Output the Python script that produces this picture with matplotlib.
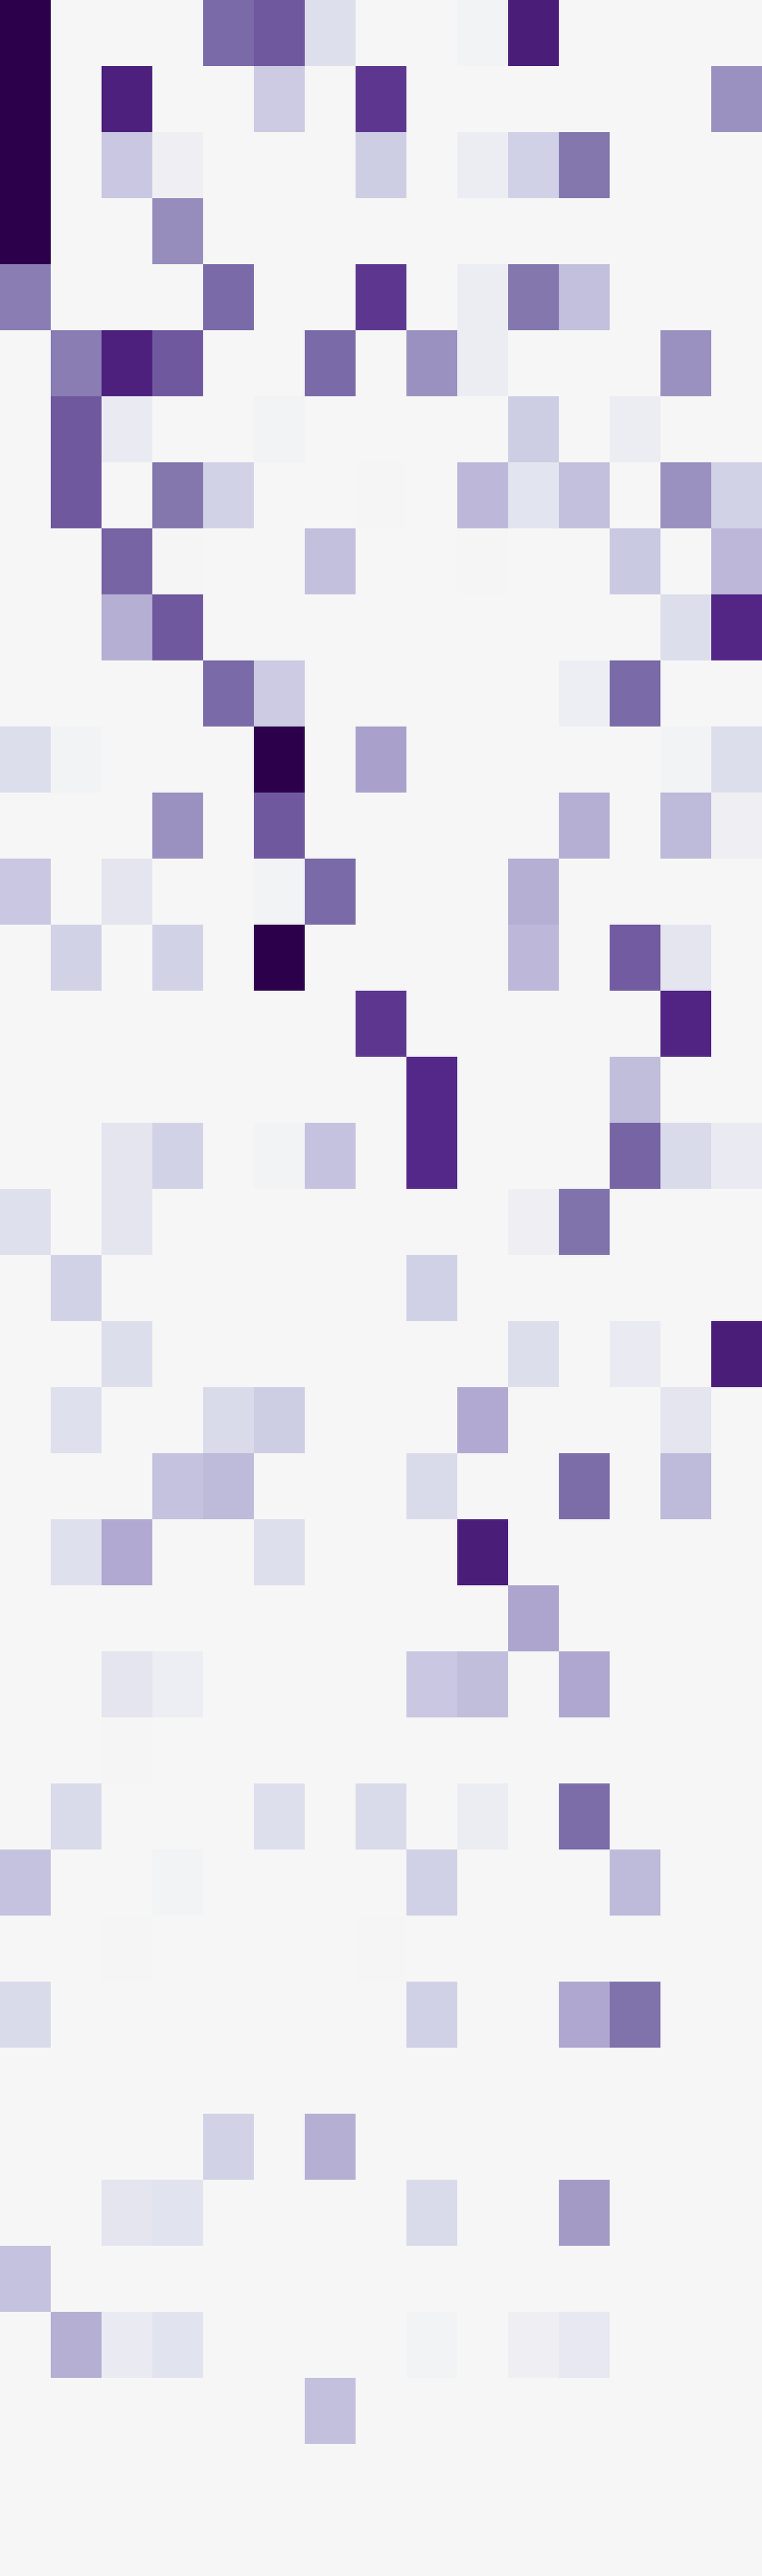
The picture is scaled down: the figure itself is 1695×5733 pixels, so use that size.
import numpy as np
import matplotlib
matplotlib.use("Agg")
import matplotlib.pyplot as plt

row_labels = [f"r{i}" for i in range(39)]
col_labels = [f"c{j}" for j in range(15)]

values = [
    [1.0, 0, 0, 0, 0.62, 0.67, 0.16, 0, 0, 0.03, 0.85, 0, 0, 0, 0],
    [1.0, 0, 0.83, 0, 0, 0.26, 0, 0.75, 0, 0, 0, 0, 0, 0, 0.49],
    [1.0, 0, 0.28, 0.05, 0, 0, 0, 0.25, 0, 0.07, 0.24, 0.58, 0, 0, 0],
    [1.0, 0, 0, 0.50, 0, 0, 0, 0, 0, 0, 0, 0, 0, 0, 0],
    [0.56, 0, 0, 0, 0.62, 0, 0, 0.75, 0, 0.07, 0.58, 0.31, 0, 0, 0],
    [0, 0.56, 0.83, 0.67, 0, 0, 0.62, 0, 0.49, 0.07, 0, 0, 0, 0.49, 0],
    [0, 0.67, 0.08, 0, 0, 0.03, 0, 0, 0, 0, 0.25, 0, 0.07, 0, 0],
    [0, 0.67, 0, 0.58, 0.23, 0, 0, 0.01, 0, 0.34, 0.13, 0.31, 0, 0.49, 0.23],
    [0, 0, 0.64, 0.01, 0, 0, 0.31, 0, 0, 0.01, 0, 0, 0.27, 0, 0.34],
    [0, 0, 0.38, 0.67, 0, 0, 0, 0, 0, 0, 0, 0, 0, 0.17, 0.80],
    [0, 0, 0, 0, 0.62, 0.26, 0, 0, 0, 0, 0, 0.06, 0.62, 0, 0],
    [0.17, 0.03, 0, 0, 0, 1.0, 0, 0.43, 0, 0, 0, 0, 0, 0.03, 0.17],
    [0, 0, 0, 0.49, 0, 0.67, 0, 0, 0, 0, 0, 0.38, 0, 0.33, 0.05],
    [0.28, 0, 0.12, 0, 0, 0.03, 0.62, 0, 0, 0, 0.38, 0, 0, 0, 0],
    [0, 0.23, 0, 0.23, 0, 1.0, 0, 0, 0, 0, 0.34, 0, 0.66, 0.12, 0],
    [0, 0, 0, 0, 0, 0, 0, 0.75, 0, 0, 0, 0, 0, 0.81, 0],
    [0, 0, 0, 0, 0, 0, 0, 0, 0.79, 0, 0, 0, 0.32, 0, 0],
    [0, 0, 0.12, 0.23, 0, 0.03, 0.30, 0, 0.79, 0, 0, 0, 0.64, 0.19, 0.08],
    [0.15, 0, 0.12, 0, 0, 0, 0, 0, 0, 0, 0.05, 0.60, 0, 0, 0],
    [0, 0.23, 0, 0, 0, 0, 0, 0, 0.24, 0, 0, 0, 0, 0, 0],
    [0, 0, 0.17, 0, 0, 0, 0, 0, 0, 0, 0.17, 0, 0.08, 0, 0.85],
    [0, 0.15, 0, 0, 0.19, 0.25, 0, 0, 0, 0.40, 0, 0, 0, 0.12, 0],
    [0, 0, 0, 0.30, 0.33, 0, 0, 0, 0.19, 0, 0, 0.61, 0, 0.33, 0],
    [0, 0.15, 0.40, 0, 0, 0.16, 0, 0, 0, 0.85, 0, 0, 0, 0, 0],
    [0, 0, 0, 0, 0, 0, 0, 0, 0, 0, 0.42, 0, 0, 0, 0],
    [0, 0, 0.12, 0.06, 0, 0, 0, 0, 0.28, 0.32, 0, 0.41, 0, 0, 0],
    [0, 0, 0.01, 0, 0, 0, 0, 0, 0, 0, 0, 0, 0, 0, 0],
    [0, 0.19, 0, 0, 0, 0.16, 0, 0.19, 0, 0.07, 0, 0.61, 0, 0, 0],
    [0.30, 0, 0, 0.03, 0, 0, 0, 0, 0.24, 0, 0, 0, 0.33, 0, 0],
    [0, 0, 0.01, 0, 0, 0, 0, 0.01, 0, 0, 0, 0, 0, 0, 0],
    [0.19, 0, 0, 0, 0, 0, 0, 0, 0.24, 0, 0, 0.41, 0.60, 0, 0],
    [0, 0, 0, 0, 0, 0, 0, 0, 0, 0, 0, 0, 0, 0, 0],
    [0, 0, 0, 0, 0.23, 0, 0.38, 0, 0, 0, 0, 0, 0, 0, 0],
    [0, 0, 0.12, 0.14, 0, 0, 0, 0, 0.19, 0, 0, 0.46, 0, 0, 0],
    [0.30, 0, 0, 0, 0, 0, 0, 0, 0, 0, 0, 0, 0, 0, 0],
    [0, 0.38, 0.08, 0.14, 0, 0, 0, 0, 0.03, 0, 0.05, 0.10, 0, 0, 0],
    [0, 0, 0, 0, 0, 0, 0.31, 0, 0, 0, 0, 0, 0, 0, 0],
    [0, 0, 0, 0, 0, 0, 0, 0, 0, 0, 0, 0, 0, 0, 0],
    [0, 0, 0, 0, 0, 0, 0, 0, 0, 0, 0, 0, 0, 0, 0],
]

data = np.array(values, dtype=float)

fig = plt.figure(figsize=(16.95, 57.33), dpi=100)
fig.patch.set_facecolor("#f7f7f7")
ax = fig.add_axes([0, 0, 1, 1])
ax.imshow(data, cmap="PuOr", vmin=-1, vmax=1, aspect="auto", interpolation="nearest")
ax.set_xticks(range(len(col_labels)))
ax.set_yticks(range(len(row_labels)))
ax.set_axis_off()
fig.savefig("out.png", dpi=100, facecolor=fig.get_facecolor())
